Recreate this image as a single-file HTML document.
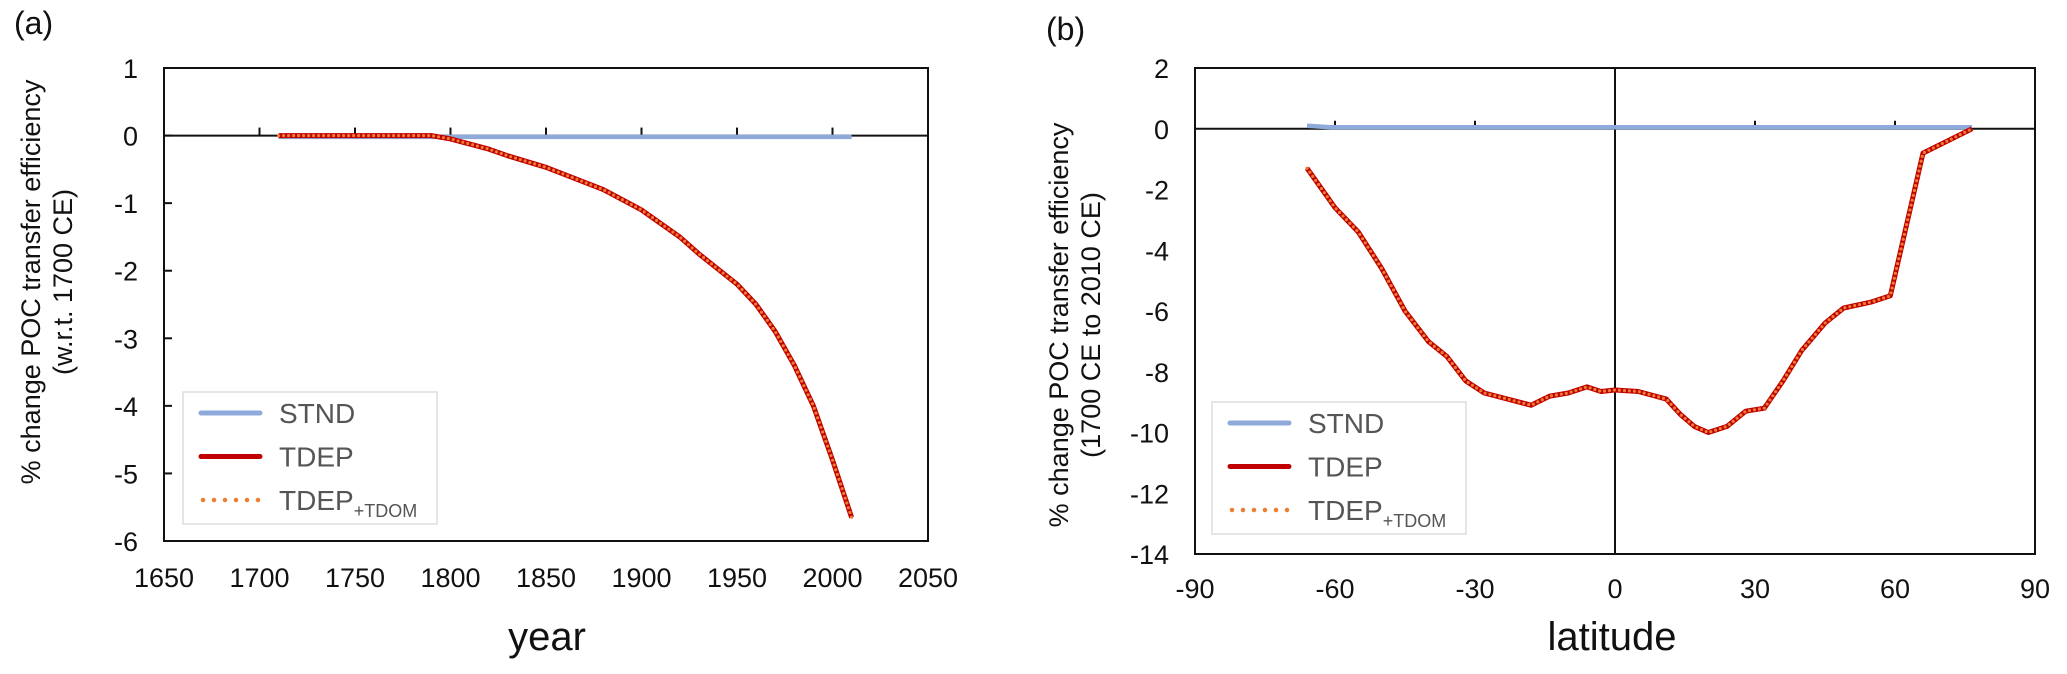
<!DOCTYPE html>
<html><head><meta charset="utf-8"><style>
body{margin:0;background:#fff}
svg{display:block;font-family:"Liberation Sans",sans-serif}
</style></head><body>
<svg id="chart" width="2067" height="674" xmlns="http://www.w3.org/2000/svg">
<text x="14" y="34" font-size="32" fill="#111">(a)</text>
<text x="1046" y="40" font-size="32" fill="#111">(b)</text>
<g id="pa"></g>
<g id="pb"></g>
</svg>
<script>
const aYears=[1710,1790,1800,1820,1830,1850,1880,1900,1910,1920,1930,1950,1960,1970,1980,1990,2000,2010];
const aTdep=[0,0,-0.05,-0.2,-0.3,-0.47,-0.8,-1.1,-1.3,-1.5,-1.75,-2.2,-2.5,-2.9,-3.4,-4.0,-4.8,-5.65];
const aStndYears=[1710,2010];
const aStnd=[-0.02,-0.02];
const aXTicks=[1650,1700,1750,1800,1850,1900,1950,2000,2050];
const aYTicks=[1,0,-1,-2,-3,-4,-5,-6];
const bLat=[-66,-60,-55,-50,-45,-40,-36,-32,-28,-18,-14,-10,-6,-3,0,5,11,14,17,20,24,28,32,36,40,45,49,55,59,66,76.5];
const bTdep=[-1.3,-2.6,-3.4,-4.6,-6.0,-7.0,-7.5,-8.3,-8.7,-9.1,-8.8,-8.7,-8.5,-8.65,-8.6,-8.65,-8.9,-9.4,-9.8,-10.0,-9.8,-9.3,-9.2,-8.3,-7.3,-6.4,-5.9,-5.7,-5.5,-0.8,0];
const bStndLat=[-66,-61,76.5];
const bStnd=[0.1,0.05,0.05];
const bXTicks=[-90,-60,-30,0,30,60,90];
const bYTicks=[2,0,-2,-4,-6,-8,-10,-12,-14];
const NS="http://www.w3.org/2000/svg";
function mk(p,t,a){const e=document.createElementNS(NS,t);for(const k in a)e.setAttribute(k,a[k]);p.appendChild(e);return e;}
function panel(g,cfg){
 const sx=v=>cfg.x0+(v-cfg.xmin)/(cfg.xmax-cfg.xmin)*(cfg.x1-cfg.x0);
 const sy=v=>cfg.y0+(cfg.ymax-v)/(cfg.ymax-cfg.ymin)*(cfg.y1-cfg.y0);
 let r=mk(g,'rect',{x:cfg.x0,y:cfg.y0,width:cfg.x1-cfg.x0,height:cfg.y1-cfg.y0,fill:'none',stroke:'#111','stroke-width':2});
 
 
 let z=mk(g,'line',{x1:cfg.x0,x2:cfg.x1,y1:sy(0),y2:sy(0),stroke:'#111','stroke-width':2});
 
 
 if(cfg.vzero){let v=mk(g,'line',{x1:sx(0),x2:sx(0),y1:cfg.y0,y2:cfg.y1,stroke:'#111','stroke-width':2});
  
  }
 cfg.xt.forEach(t=>{
  if(t!==cfg.xmin&&!(cfg.vzero&&t===0)){let l=mk(g,'line',{x1:sx(t),x2:sx(t),y1:sy(0)-8,y2:sy(0),stroke:'#111','stroke-width':2});
   
   }
  let tx=mk(g,'text',{x:sx(t),y:cfg.tly,'font-size':27,'text-anchor':'middle',fill:'#111'});tx.textContent=t;
  
  
 });
 cfg.yt.forEach(t=>{
  if(cfg.yticks&&t!==cfg.ymin&&t!==cfg.ymax){let l=mk(g,'line',{x1:cfg.x0,x2:cfg.x0+8,y1:sy(t),y2:sy(t),stroke:'#111','stroke-width':2});
   
   }
  let tx=mk(g,'text',{x:cfg.x0-26,y:sy(t)+10,'font-size':27,'text-anchor':'end',fill:'#111'});tx.textContent=t;
  
  });
 const path=(xs,ys)=>xs.map((x,i)=>(i?'L':'M')+sx(x).toFixed(1)+','+sy(ys[i]).toFixed(1)).join('');
 let s=mk(g,'path',{d:path(cfg.sx,cfg.sy),fill:'none',stroke:'#8eaadb','stroke-width':4.5});
 
 
 let t1=mk(g,'path',{d:path(cfg.tx,cfg.ty),fill:'none',stroke:'#c00000','stroke-width':5,'stroke-linejoin':'round'});
 
 
 let t2=mk(g,'path',{d:path(cfg.tx,cfg.ty),fill:'none',stroke:'#ed7d31','stroke-width':3.2,'stroke-dasharray':'0 5','stroke-linecap':'round'});
 
 
 let xt=mk(g,'text',{x:cfg.xtx,y:650,'font-size':40,'text-anchor':'middle',fill:'#111'});xt.textContent=cfg.xtitle;
 
 
 let yt=mk(g,'text',{transform:`translate(${cfg.ylx},${cfg.ylc}) rotate(-90)`,'font-size':27,'text-anchor':'middle',fill:'#111'});
 
 
 let a1=mk(yt,'tspan',{x:0,y:0});a1.textContent='% change POC transfer efficiency';
 let a2=mk(yt,'tspan',{x:0,y:32});a2.textContent=cfg.ysub;
 const L=cfg.leg;
 let lg=mk(g,'g',{});
 
 
 mk(lg,'rect',{x:L[0],y:L[1],width:254,height:132,fill:'#fff',stroke:'#ddd','stroke-width':1.5});
 const items=[['STND','#8eaadb',null],['TDEP','#c00000',null],['TDEP','#ed7d31','+TDOM']];
 items.forEach((it,i)=>{const yy=L[1]+21+i*43.5;
  let e=mk(lg,'g',{});
  
  
  if(i<2)mk(e,'line',{x1:L[0]+18,x2:L[0]+77,y1:yy,y2:yy,stroke:it[1],'stroke-width':5,'stroke-linecap':'round'});
  else mk(e,'line',{x1:L[0]+20,x2:L[0]+77,y1:yy,y2:yy,stroke:it[1],'stroke-width':4.5,'stroke-dasharray':'0 11','stroke-linecap':'round'});
  let t=mk(e,'text',{x:L[0]+96,y:yy+10,'font-size':28,fill:'#555'});t.textContent=it[0];
  if(it[2]){let sb=mk(t,'tspan',{'font-size':18,dy:7});sb.textContent=it[2];}
 });
}
panel(document.getElementById('pa'),{x0:164,x1:928,y0:68,y1:541,xmin:1650,xmax:2050,ymin:-6,ymax:1,xt:aXTicks,yt:aYTicks,yticks:true,tly:587,
 sx:aStndYears,sy:aStnd,tx:aYears,ty:aTdep,xtitle:'year',xtx:547,ylx:40,ylc:282,ysub:'(w.r.t. 1700 CE)',leg:[183,392]});
panel(document.getElementById('pb'),{x0:1195,x1:2035,y0:68,y1:554,xmin:-90,xmax:90,ymin:-14,ymax:2,xt:bXTicks,yt:bYTicks,vzero:true,tly:598,
 sx:bStndLat,sy:bStnd,tx:bLat,ty:bTdep,xtitle:'latitude',xtx:1612,ylx:1068,ylc:325,ysub:'(1700 CE to 2010 CE)',leg:[1212,402]});
</script>
</body></html>
